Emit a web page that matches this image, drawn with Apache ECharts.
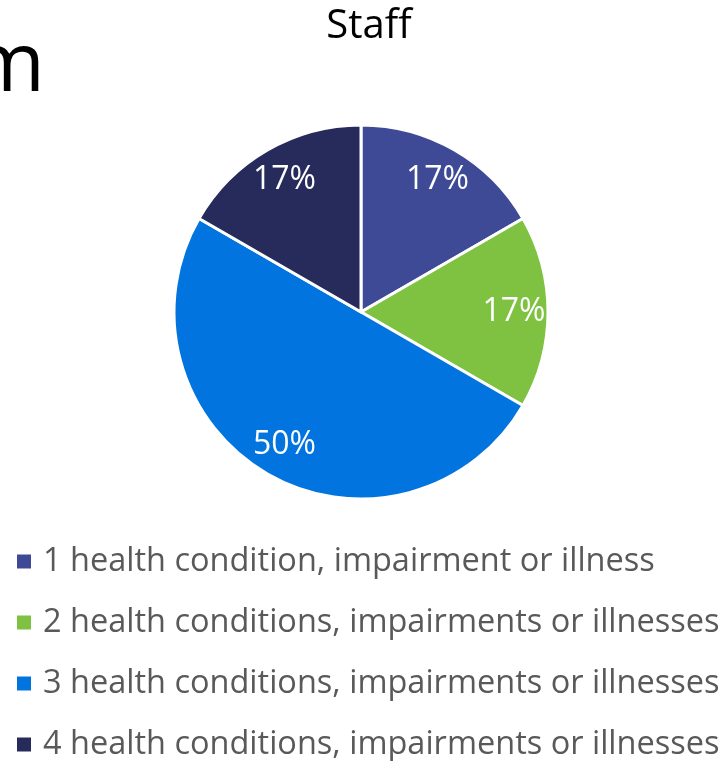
<!DOCTYPE html>
<html>
<head>
<meta charset="utf-8">
<script src="https://cdn.jsdelivr.net/npm/echarts@6/dist/echarts.min.js"></script>
<style>
  html, body { margin: 0; padding: 0; background: #fff; }
  #chart { width: 725px; height: 761px; }
</style>
</head>
<body>
<div id="chart"></div>
<script>
// categories and values
const categories = [
  '1 health condition, impairment or illness',
  '2 health conditions, impairments or illnesses',
  '3 health conditions, impairments or illnesses',
  '4 health conditions, impairments or illnesses'
]
const staffCounts = [1, 1, 3, 1]
const sliceColors = ['#3e4a96', '#7fc241', '#0274e0', '#262b5b']

const font = '"Open Sans", "Noto Sans", sans-serif'

let pieData = categories.map((name, i) => ({
  name: name,
  value: staffCounts[i],
  itemStyle: { color: sliceColors[i] }
}))

let myChart = echarts.init(document.getElementById('chart'), null, { renderer: 'canvas' })

myChart.setOption({
  animation: false,
  title: {
    text: 'Staff',
    left: 364,
    top: 2,
    textAlign: 'center',
    textStyle: { fontFamily: font, fontSize: 40, fontWeight: 'normal', color: '#000' }
  },
  graphic: [{
    type: 'text',
    left: -31,
    top: 27,
    style: { text: 'm', fontFamily: font, fontSize: 82, fill: '#000' }
  }],
  legend: {
    orient: 'vertical',
    left: 15,
    top: 545,
    height: 260,
    padding: 0,
    icon: 'rect',
    itemWidth: 16,
    itemHeight: 16,
    itemGap: 28,
    data: categories,
    textStyle: { fontFamily: font, fontSize: 32.5, color: '#595959', padding: [0, 0, 0, 6] }
  },
  series: [
    {
      // visible pie
      type: 'pie',
      center: [361, 312],
      radius: 187,
      startAngle: 90,
      clockwise: true,
      silent: true,
      itemStyle: { borderColor: '#fff', borderWidth: 3 },
      label: { show: false },
      labelLine: { show: false },
      data: pieData
    },
    {
      // transparent ring used only to place labels at ~0.8 radius
      type: 'pie',
      center: [361, 312],
      radius: [138, 162],
      startAngle: 90,
      clockwise: true,
      silent: true,
      legendHoverLink: false,
      itemStyle: { color: 'rgba(0,0,0,0)', borderWidth: 0 },
      label: {
        show: true,
        position: 'inside',
        color: '#fff',
        fontFamily: font,
        fontSize: 32,
        formatter: p => Math.round(p.percent) + '%'
      },
      labelLine: { show: false },
      data: categories.map((name, i) => ({ name: name, value: staffCounts[i] }))
    }
  ]
})
</script>
</body>
</html>
